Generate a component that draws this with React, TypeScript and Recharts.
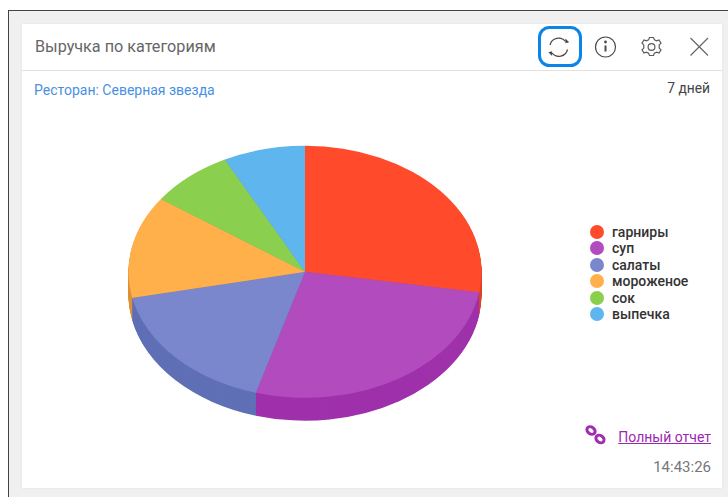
import React from "react";
import { PieChart, Pie } from "recharts";

// Revenue share per menu category, percent
const categories = ["гарниры", "суп", "салаты", "мороженое", "сок", "выпечка"];
const shares = [27.6, 26.9, 17.2, 13.1, 7.7, 7.5];
const topColors = ["#ff4b2b", "#b24bbd", "#7a87cc", "#ffb04b", "#8ad04e", "#5fb5ee"];
const wallColors = ["#d9472a", "#9f31ab", "#6070b6", "#dc923a", "#76b340", "#4f9ad0"];

const TITLE = "Выручка по категориям";
const RESTAURANT = "Ресторан: Северная звезда";
const PERIOD = "7 дней";
const REPORT_LINK = "Полный отчет";
const UPDATED_AT = "14:43:26";

// Disc geometry: the flat pie is squashed vertically to read as a tilted disc.
const RADIUS = 176.5;
const TILT = 0.714;
const CHART_W = 400;
const CHART_H = 500;
const DISC_CX = 305;
const DISC_CY = 271.8;
const WALL = 32;
const CY = 200;

const wallSteps: number[] = [];
for (let d = WALL; d >= 1; d -= 1) wallSteps.push(d);

const sliceData = (colors: string[]) =>
  categories.map((name, i) => ({ name, value: shares[i], fill: colors[i] }));

const Disc = () => (
  <div
    style={{
      position: "absolute",
      left: DISC_CX - CHART_W / 2,
      top: DISC_CY - CY * TILT,
      width: CHART_W,
      height: CHART_H,
      transform: `scaleY(${TILT})`,
      transformOrigin: "0 0",
    }}
  >
    <PieChart width={CHART_W} height={CHART_H} margin={{ top: 0, right: 0, bottom: 0, left: 0 }}>
      {wallSteps.map((d) => (
        <Pie
          key={d}
          data={sliceData(wallColors)}
          dataKey="value"
          nameKey="name"
          cx={CHART_W / 2}
          cy={CY + d}
          innerRadius={0}
          outerRadius={RADIUS}
          startAngle={90}
          endAngle={-270}
          stroke="none"
          isAnimationActive={false}
        />
      ))}
      <Pie
        data={sliceData(topColors)}
        dataKey="value"
        nameKey="name"
        cx={CHART_W / 2}
        cy={CY}
        innerRadius={0}
        outerRadius={RADIUS}
        startAngle={90}
        endAngle={-270}
        stroke="none"
        isAnimationActive={false}
      />
    </PieChart>
  </div>
);

const text = (
  left: number | undefined,
  right: number | undefined,
  top: number,
  size: number,
  color: string,
  extra: React.CSSProperties = {}
): React.CSSProperties => ({
  position: "absolute",
  left,
  right,
  top,
  fontSize: size,
  lineHeight: "20px",
  color,
  whiteSpace: "nowrap",
  ...extra,
});

const Icons = () => (
  <svg width={728} height={497} style={{ position: "absolute", left: 0, top: 0 }}>
    <rect x={539.5} y={27.5} width={41} height={38} rx={10} fill="none" stroke="#0a84e6" strokeWidth={3} />
    <g fill="none" stroke="#4a4a4a" strokeWidth={1.2}>
      {/* refresh */}
      <path d="M550 45 a8.8 8.8 0 0 1 15.5 -3.5" />
      <path d="M567.5 49.5 a8.8 8.8 0 0 1 -15.5 3.5" />
      <path d="M566 42.5 l2 -0.5 l-2 -2 z" fill="#4a4a4a" />
      <path d="M551.5 52 l-2 0.5 l2 2 z" fill="#4a4a4a" />
      {/* info */}
      <circle cx={605.5} cy={47} r={10} />
      <path d="M605.5 45.5 v6" strokeWidth={2} />
      <circle cx={605.5} cy={42} r={0.7} strokeWidth={1.4} />
      {/* settings */}
      <g stroke="#5a5a5a">
        <circle cx={651.5} cy={47} r={3.4} />
        <path d="M649.5 37.5 h4 l0.9 2.4 l2.3 1 l2.3 -1 l2 3.2 l-1.8 1.8 v3.2 l1.8 1.8 l-2 3.2 l-2.3 -1 l-2.3 1 l-0.9 2.4 h-4 l-0.9 -2.4 l-2.3 -1 l-2.3 1 l-2 -3.2 l1.8 -1.8 v-3.2 l-1.8 -1.8 l2 -3.2 l2.3 1 l2.3 -1 z" />
      </g>
      {/* close */}
      <path d="M690.5 38 L708 55.5 M708 38 L690.5 55.5" strokeWidth={1.2} stroke="#666" />
    </g>
    {/* link */}
    <g fill="none" stroke="#a02cb0" strokeWidth={3}>
      <ellipse cx={591} cy={430.5} rx={4.4} ry={3.4} transform="rotate(35 591 430.5)" />
      <ellipse cx={600} cy={439} rx={4.4} ry={3.4} transform="rotate(35 600 439)" />
    </g>
  </svg>
);

export default function App() {
  return (
    <div
      style={{
        position: "absolute",
        left: 0,
        top: 0,
        width: 728,
        height: 497,
        overflow: "hidden",
        background: "#fff",
        fontFamily: "Roboto, sans-serif",
      }}
    >
      <div
        style={{
          position: "absolute",
          left: 8,
          top: 10,
          width: 720,
          height: 487,
          background: "#f0f0f0",
          borderTop: "1px solid #444",
          borderLeft: "1px solid #444",
          boxSizing: "border-box",
        }}
      />
      <div
        style={{
          position: "absolute",
          left: 22,
          top: 24,
          width: 700,
          height: 464,
          background: "#fff",
          boxShadow: "0 0 2px #ddd",
        }}
      />
      <div style={{ position: "absolute", left: 22, top: 70, width: 700, height: 1, background: "#e2e2e2" }} />

      <div style={text(35, undefined, 37, 16.2, "#666")}>{TITLE}</div>
      <div style={text(34, undefined, 80, 14, "#4a90e2")}>{RESTAURANT}</div>
      <div style={text(undefined, 18, 78, 13.8, "#444")}>{PERIOD}</div>

      <Disc />

      {categories.map((name, i) => (
        <React.Fragment key={name}>
          <div
            style={{
              position: "absolute",
              left: 590,
              top: 225 + i * 16.4,
              width: 14,
              height: 14,
              borderRadius: "50%",
              background: topColors[i],
            }}
          />
          <div style={text(612, undefined, 222 + i * 16.4, 14, "#333", { fontWeight: 500 })}>{name}</div>
        </React.Fragment>
      ))}

      <Icons />
      <div style={text(undefined, 17, 427, 14, "#9c27b0", { textDecoration: "underline" })}>{REPORT_LINK}</div>
      <div style={text(undefined, 17, 457, 15, "#777")}>{UPDATED_AT}</div>
    </div>
  );
}
